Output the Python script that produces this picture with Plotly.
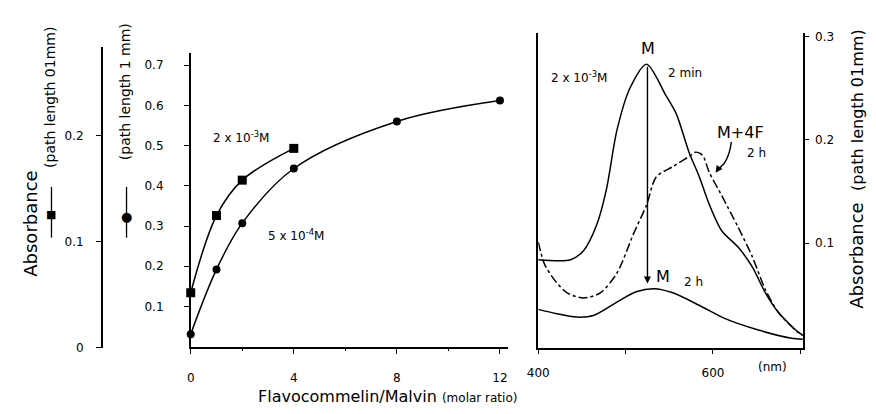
import plotly.graph_objects as go

W, H = 876, 414
FONT = "DejaVu Sans"

# ---- middle panel data (Flavocommelin/Malvin molar ratio vs absorbance) ----
ratio_sq = [0, 1, 2, 4]
abs_sq = [0.134, 0.326, 0.414, 0.493]          # 2x10^-3 M, path 0.1 mm
ratio_ci = [0, 1, 2, 4, 8, 12]
abs_ci = [0.031, 0.192, 0.307, 0.443, 0.560, 0.612]  # 5x10^-4 M, path 1 mm
mid_xticks = [0, 4, 8, 12]
mid_yticks = [0.1, 0.2, 0.3, 0.4, 0.5, 0.6, 0.7]
left_yticks = [0, 0.1, 0.2]
left_yticktext = ["0", "0.1", "0.2"]

# ---- right panel data (spectra) ----
wl_2min = [400, 437, 452, 467, 478, 490, 505, 524, 546, 558, 573, 584, 596, 610, 629, 645, 660, 675, 697, 703]
abs_2min = [0.084, 0.084, 0.093, 0.118, 0.152, 0.209, 0.250, 0.273, 0.243, 0.225, 0.187, 0.165, 0.137, 0.112,
            0.096, 0.077, 0.052, 0.033, 0.0144, 0.011]
wl_2h = [400, 420, 444, 463, 490, 512, 533, 554, 584, 614, 652, 690, 703]
abs_2h = [0.036, 0.032, 0.0285, 0.030, 0.043, 0.053, 0.056, 0.052, 0.040, 0.027, 0.016, 0.008, 0.007]
wl_4f = [400, 407, 418, 433, 452, 471, 490, 509, 524, 535, 554, 573, 580, 588, 596, 610, 629, 645, 660, 675, 697, 703]
abs_4f = [0.101, 0.080, 0.065, 0.052, 0.047, 0.052, 0.071, 0.109, 0.137, 0.164, 0.174, 0.184, 0.188, 0.185,
          0.168, 0.146, 0.115, 0.087, 0.055, 0.033, 0.014, 0.011]
right_xticks = [400, 600]
right_yticks = [0.1, 0.2, 0.3]


def px(x):
    return x / W


def py(y):
    return 1 - y / H


fig = go.Figure()
line = dict(color="black", width=1.5)

# middle panel
fig.add_trace(go.Scatter(x=ratio_sq, y=abs_sq, mode="lines+markers", line=dict(line, shape="spline", smoothing=1.0),
                         marker=dict(symbol="square", size=9, color="black"), cliponaxis=False,
                         xaxis="x", yaxis="y", showlegend=False))
fig.add_trace(go.Scatter(x=ratio_ci, y=abs_ci, mode="lines+markers", line=dict(line, shape="spline", smoothing=1.0),
                         marker=dict(symbol="circle", size=8, color="black"), cliponaxis=False,
                         xaxis="x", yaxis="y", showlegend=False))

# right panel
fig.add_trace(go.Scatter(x=wl_2min, y=abs_2min, mode="lines", line=dict(line, shape="spline", smoothing=0.8),
                         xaxis="x2", yaxis="y2", showlegend=False))
fig.add_trace(go.Scatter(x=wl_2h, y=abs_2h, mode="lines", line=dict(line, shape="spline", smoothing=0.8),
                         xaxis="x2", yaxis="y2", showlegend=False))
fig.add_trace(go.Scatter(x=wl_4f, y=abs_4f, mode="lines", line=dict(line, shape="spline", smoothing=0.8, dash="dashdot"),
                         xaxis="x2", yaxis="y2", showlegend=False))

# left stand-alone axis
fig.add_trace(go.Scatter(x=[], y=[], xaxis="x3", yaxis="y3", showlegend=False))

tickfont = dict(family=FONT, size=12, color="black")
axis_common = dict(showgrid=False, zeroline=False, showline=True, linecolor="black", linewidth=1.5,
                   ticks="outside", tickcolor="black", tickwidth=1.2, tickfont=tickfont)

fig.update_layout(
    width=W, height=H, margin=dict(l=0, r=0, t=0, b=0),
    paper_bgcolor="white", plot_bgcolor="white",
    font=dict(family=FONT, color="black"),
    xaxis=dict(axis_common, domain=[px(182), px(503)], range=[0, 12.3], anchor="y",
               tickvals=mid_xticks, ticklen=6, ticklabelstandoff=13,
               minor=dict(dtick=2, ticklen=3, ticks="outside", tickcolor="black")),
    yaxis=dict(axis_common, domain=[py(352), py(50)], range=[0, 0.731], anchor="x",
               tickvals=mid_yticks, tickformat=".1f", ticklen=5, ticklabelstandoff=18),
    xaxis2=dict(axis_common, domain=[px(534), px(802)], range=[400, 703], anchor="y2",
                tickvals=right_xticks, ticklen=5, ticklabelstandoff=8,
                minor=dict(tick0=400, dtick=100, ticklen=5, ticks="outside", tickcolor="black")),
    yaxis2=dict(axis_common, domain=[py(353), py(30)], range=[-0.001, 0.303], anchor="x2", side="right",
                mirror=True, tickvals=right_yticks, tickformat=".1f", ticklen=4, ticklabelstandoff=4),
    xaxis3=dict(domain=[px(93), px(94)], visible=False, range=[0, 1], anchor="y3"),
    yaxis3=dict(axis_common, domain=[py(353), py(44)], range=[0, 0.2835], anchor="x3",
                tickvals=left_yticks, ticktext=left_yticktext, ticklen=5, ticklabelstandoff=10),
)


def note(text, x, y, size=12, angle=0, xanchor="center", yanchor="middle"):
    fig.add_annotation(text=text, x=px(x), y=py(y), xref="paper", yref="paper", showarrow=False,
                       font=dict(family=FONT, size=size, color="black"), textangle=angle,
                       xanchor=xanchor, yanchor=yanchor)


# middle labels
note("2 x 10<sup>-3</sup>M", 203, 137, 12, xanchor="left")
note("5 x 10<sup>-4</sup>M", 258, 237, 12, xanchor="left")
note("Flavocommelin/Malvin <span style='font-size:12px'>(molar ratio)</span>", 381, 403, 16)

# left axis titles
note("Absorbance", 20, 226, 18, angle=-90)
note("(path length 01mm)", 40, 96, 14, angle=-90)
note("(path length 1 mm)", 115, 90, 14, angle=-90)
note("■", 41, 216, 11)
note("●", 117, 218, 13)
for xx in (41, 117):
    fig.add_shape(type="line", x0=px(xx), x1=px(xx), y0=py(188), y1=py(240), xref="paper", yref="paper",
                  line=dict(color="black", width=1.3))

# right panel labels
note("2 x 10<sup>-3</sup>M", 545, 75, 12, xanchor="left")
note("M", 645, 46, 16)
note("2 min", 663, 71, 12, xanchor="left")
note("M+4F", 739, 132, 16)
note("2 h", 743, 153, 12, xanchor="left")
note("M", 660, 280, 16)
note("2 h", 680, 286, 12, xanchor="left")
note("(nm)", 771, 373, 12)
note("Absorbance  <span style='font-size:16px'>(path length 01mm)</span>", 856, 170, 18, angle=-90)

# arrows
fig.add_annotation(x=525, y=0.061, ax=525, ay=0.272, xref="x2", yref="y2", axref="x2", ayref="y2",
                   text="", showarrow=True, arrowhead=2, arrowsize=1, arrowwidth=1.4, arrowcolor="black")
fig.add_shape(type="path", xref="x2", yref="y2", path="M 621,0.198 Q 618,0.178 606,0.172",
              line=dict(color="black", width=1.4))
fig.add_annotation(x=603, y=0.168, ax=607, ay=0.173, xref="x2", yref="y2", axref="x2", ayref="y2",
                   text="", showarrow=True, arrowhead=2, arrowsize=1, arrowwidth=1.4, arrowcolor="black")

fig.write_html("out.html", config={"displayModeBar": False},
               post_script="document.body.style.margin='0';")
